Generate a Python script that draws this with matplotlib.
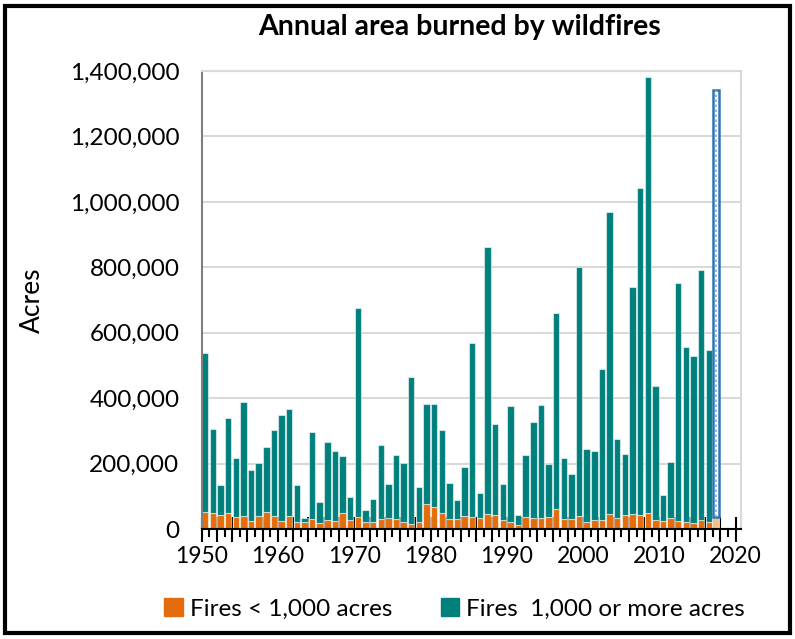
import numpy as np
from matplotlib import pyplot as plt
from matplotlib.patches import Patch, Rectangle

# acres burned (thousands)
years = list(range(1950, 2018))
total_k = [
    538, 305, 135, 339, 216, 387, 181, 203, 251, 302,
    348, 366, 134, 34, 298, 82, 266, 239, 222, 99,
    677, 58, 93, 257, 137, 225, 201, 466, 127, 382,
    382, 303, 142, 88, 189, 570, 110, 862, 321, 137,
    375, 43, 226, 327, 379, 199, 661, 216, 168, 802,
    245, 239, 490, 968, 276, 230, 740, 1041, 1383, 436,
    105, 204, 751, 555, 530, 791, 547, 1341,
]
small_k = [
    53, 48, 42, 48, 38, 41, 25, 41, 51, 41,
    25, 41, 21, 20, 30, 17, 27, 25, 48, 28,
    38, 20, 23, 31, 35, 32, 22, 15, 22, 76,
    68, 48, 30, 30, 40, 37, 33, 45, 44, 28,
    22, 12, 36, 33, 33, 38, 60, 30, 30, 40,
    22, 28, 28, 46, 33, 43, 46, 43, 48, 28,
    25, 33, 25, 22, 18, 28, 22, 36,
]
estimate_year = 2017

title = "Annual area burned by wildfires"
ylabel = "Acres"
small_label = "Fires < 1,000 acres"
large_label = "Fires  1,000 or more acres"

ORANGE = "#E46C0A"
TEAL = "#00807D"
LIGHT_ORANGE = "#F2C28A"
BLUE = "#2E75B6"

plt.rcParams["font.family"] = ["Lato", "DejaVu Sans"]

x = np.array(years) + 0.47
small = np.array(small_k) * 1000
large = (np.array(total_k) - np.array(small_k)) * 1000
est = np.array(years) == estimate_year

fig = plt.figure(figsize=(7.95, 6.39), dpi=100)
ax = fig.add_axes([0.2537, 0.1721, 0.6784, 0.7168])

edge = (1, 1, 1, 0.55)
ax.bar(x[~est], small[~est], width=0.84, color=ORANGE, edgecolor=edge, linewidth=0.8, zorder=2)
ax.bar(x[~est], large[~est], bottom=small[~est], width=0.84, color=TEAL,
       edgecolor=edge, linewidth=0.8, zorder=2)
# latest year drawn as an estimate
ax.bar(x[est], small[est], width=0.84, color=LIGHT_ORANGE, edgecolor="none", zorder=2)
ax.bar(x[est], large[est], bottom=small[est], width=0.8, facecolor="white",
       edgecolor=BLUE, linewidth=1.8, zorder=2)
ax.plot([x[est][0], x[est][0]], [small[est][0], small[est][0] + large[est][0]],
        color="#7FAEDB", lw=1.2, ls=(0, (1.5, 1.5)), zorder=3)

ax.set_xlim(1950, 2020.7)
ax.set_ylim(0, 1400000)
ax.set_yticks(np.arange(0, 1400001, 200000))
ax.set_yticklabels([f"{v:,}" for v in range(0, 1400001, 200000)])
ax.set_xticks(range(1950, 2021, 10))
ax.set_xticks(range(1950, 2021, 2), minor=True)
ax.tick_params(axis="y", length=0, pad=16, labelsize=17.5)
ax.tick_params(axis="x", which="major", direction="inout", length=18, width=1.5,
               labelsize=16.5, pad=3)
ax.tick_params(axis="x", which="minor", direction="inout", length=18, width=1.5)
# odd-year short ticks
for yr in range(1951, 2021, 2):
    ax.plot([yr, yr], [0, -0.015], color="black", lw=1.5, transform=ax.get_xaxis_transform(),
            clip_on=False, zorder=3)

ax.grid(axis="y", color="#D9D9D9", linewidth=1.5, zorder=0)
ax.set_axisbelow(True)
for side in ["top", "right"]:
    ax.spines[side].set_color("#D9D9D9")
    ax.spines[side].set_linewidth(1.5)
ax.spines["left"].set_color("#7F7F7F")
ax.spines["left"].set_linewidth(1.5)
ax.spines["bottom"].set_color("black")
ax.spines["bottom"].set_linewidth(1.5)

ax.set_ylabel(ylabel, fontsize=19, labelpad=18)
fig.text(0.578, 0.957, title, ha="center", va="center", fontsize=20.5, fontweight="bold")

handles = [Patch(color=ORANGE, label=small_label), Patch(color=TEAL, label=large_label)]
fig.legend(handles=handles, loc="center", bbox_to_anchor=(0.572, 0.047), ncol=2,
           frameon=False, fontsize=17.5, handlelength=0.75, handleheight=0.75,
           handletextpad=0.3, columnspacing=2.0)

fig.patches.append(Rectangle((0.006, 0.01), 0.988, 0.98, transform=fig.transFigure,
                             fill=False, edgecolor="black", linewidth=3))

plt.savefig("out.png", dpi=100)
